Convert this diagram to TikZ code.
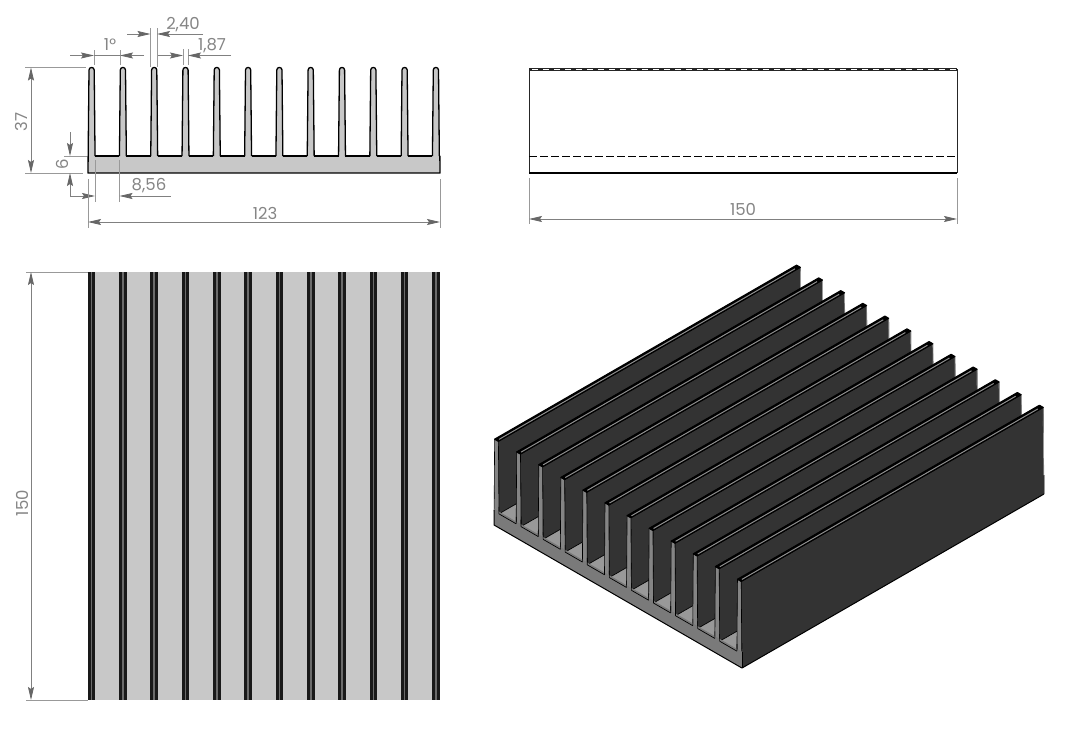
\documentclass[tikz,border=0pt]{standalone}
\usepackage{fontspec}
\setmainfont{Poppins}
\usetikzlibrary{arrows.meta}
\definecolor{dimc}{HTML}{808080}
\definecolor{dimtx}{HTML}{858585}
\definecolor{metal}{HTML}{C8C8C8}
\definecolor{finside}{HTML}{333333}
\definecolor{finend}{HTML}{858585}
\definecolor{floorc}{HTML}{999999}
\tikzset{
  dimtip/.tip={Stealth[length=13pt,width=6pt,inset=2pt,fill=dimc!80!black,color=dimc!80!black]},
  dimline/.style={draw=dimc,line width=0.8pt},
  extline/.style={draw=dimc!80,line width=0.8pt},
  dimarrow/.style={dimline,-dimtip},
  dimboth/.style={dimline,dimtip-dimtip},
  dimtext/.style={text=dimtx,font=\fontsize{16.5}{16.5}\selectfont,inner sep=0pt},
  profile/.style={draw=black,line width=1.3pt,line join=round},
  isoedge/.style={draw=black,line width=0.6pt,line join=round},
}
\begin{document}
\begin{tikzpicture}[x=1pt,y=-1pt]
\useasboundingbox (0,0) rectangle (1091,744);
% ---- front profile ----
\fill[metal] (88,156) rectangle (440,173);
\foreach \k in {0,...,11}{
  \pgfmathsetmacro\c{91.6+31.3*\k}
  \fill[metal] ({\c-3.45},156) -- ({\c-2.6},70) arc[start angle=180,end angle=0,x radius=2.6,y radius=-2.6] -- ({\c+3.45},156) -- cycle;
  \draw[profile] ({\c-3.45},156) -- ({\c-2.6},70) arc[start angle=180,end angle=0,x radius=2.6,y radius=-2.6] -- ({\c+3.45},156);
}
\foreach \k in {0,...,10}{
  \pgfmathsetmacro\c{91.6+31.3*\k}
  \draw[profile] ({\c+3.45},156) -- ({\c+31.3-3.45},156);
}
\draw[profile] (88.15,156) -- (88,173) -- (440,173) -- (439.85,156);
% ---- side view ----
\draw[black!85,line width=1pt] (529,69) -- (529,173);
\draw[black!85,line width=1pt] (957,69) -- (957,173);
\draw[black,line width=1.3pt] (529,173) -- (957,173);
\fill[black!85] (529,68) rectangle (957,71);
\draw[white,line width=0.8pt,dash pattern=on 6pt off 5pt] (532,69.5) -- (957,69.5);
\draw[black,line width=0.9pt,dash pattern=on 7.5pt off 3.5pt] (529,156) -- (957,156);
% ---- top view ----
\fill[metal] (88,272) rectangle (440,700);
\foreach \k in {0,...,11}{
  \pgfmathsetmacro\c{91.6+31.3*\k}
  \fill[black!90] ({\c-3.8},272) rectangle ({\c+3.8},700);
  \fill[floorc!70!black] ({\c-0.8},272) rectangle ({\c+0.8},700);
}
% ---- isometric view ----
\begin{scope}[shift={(494,525)},x={(2.016pt,-1.163pt)},y={(2.013pt,1.16pt)},z={(0pt,2.33pt)}]
\foreach \k in {0,...,11}{
  \pgfmathsetmacro\c{1.25+10.95*\k}
  \pgfmathsetmacro\bl{\c-1.2}
  \pgfmathsetmacro\br{\c+1.2}
  \pgfmathsetmacro\tl{\c-0.935}
  \pgfmathsetmacro\tr{\c+0.935}
  \pgfmathsetmacro\tc{\c+0.25}
  \pgfmathsetmacro\nx{\c+10.95-1.2}
  % side of the fin
  \draw[isoedge,fill=finside] (\br,0,6) -- (\tr,0,37) -- (\tr,150,37) -- (\br,150,6) -- cycle;
  \draw[draw=floorc,line width=0.7pt] (\tr,150,37) -- (\br,150,8);
  % end of the fin
  \draw[isoedge,fill=finend] (\bl,0,6) -- (\tl,0,37) -- (\tr,0,37) -- (\br,0,6) -- cycle;
  % top of the fin
  \draw[draw=black,fill=black,line width=1.1pt,line join=round] (\tl,0,37) -- (\tr,0,37) -- (\tr,150,37) -- (\tl,150,37) -- cycle;
  \draw[draw=floorc!110,line width=1pt] (\tc,1,37) -- (\tc,148,37);
  % floor of the channel
  \ifnum\k<11
    \draw[isoedge,fill=floorc] (\br,0,6) -- (\nx,0,6) -- (\nx,150,6) -- (\br,150,6) -- cycle;
  \fi
}
% right face of the base: same tone as the last fin, no seam
\fill[finside] (123,0,0) -- (123,150,0) -- (123,150,8) -- (122.9,0,8) -- cycle;
\draw[draw=floorc,line width=0.7pt] (123,150,0) -- (123,150,8);
% front of the base
\fill[finend!92!black] (0,0,0) -- (123,0,0) -- (123,0,7) -- (0,0,7) -- cycle;
\foreach \k in {0,...,10}{
  \pgfmathsetmacro\c{1.25+10.95*\k}
  \draw[black,line width=0.7pt] ({\c+1.2},0,6) -- ({\c+10.95-1.2},0,6);
  \draw[black,line width=0.6pt] ({\c+1.2},0,6) -- ({\c+1.16},0,9);
  \draw[black,line width=0.6pt] ({\c+10.95-1.2},0,6) -- ({\c+10.95-1.16},0,9);
}
\draw[black,line width=1pt,line join=round] (0,0,6.5) -- (0,0,0) -- (123,0,0) -- (123,150,0);
\draw[black,line width=0.7pt] (123,0,0) -- (123,0,7);
\end{scope}
% ---- dimensions ----
% 37
\coordinate (a37t) at (31,67.5); \coordinate (a37b) at (31,173);
\draw[extline] (25,67.5) -- (86,67.5);
\draw[extline] (25,173) -- (83,173);
\draw[dimboth] (a37t) -- (a37b);
\node[dimtext,rotate=90] (t37) at (21,122) {37};
% 6
\draw[extline] (64,156) -- (87,156);
\coordinate (a6a) at (70,156); \coordinate (a6b) at (70,173);
\draw[dimarrow] (70,132) -- (a6a);
\draw[dimarrow] (70,197) -- (a6b);
\node[dimtext,rotate=90] (t6) at (62,164) {6};
% 8,56
\draw[extline] (95,160) -- (95,201.5);
\draw[extline] (119.5,160) -- (119.5,201.5);
\draw[dimarrow] (70,196) -- (95,196);
\draw[dimarrow] (170.5,196) -- (119.5,196);
\node[dimtext] (t856) at (149,186) {8,56};
% 123
\draw[extline] (88,179) -- (88,228);
\draw[extline] (440,179) -- (440,228);
\draw[dimboth] (88,222) -- (440,222);
\node[dimtext] (t123) at (265,213) {123};
% 1 deg
\draw[extline] (94,50) -- (94,65);
\draw[extline] (120,50) -- (120,65);
\draw[dimarrow] (70,55.5) -- (94,55.5);
\draw[dimarrow] (144,55.5) -- (120,55.5);
\draw[dimline] (94,55.5) -- (120,55.5);
\node[dimtext] (t1) at (110,45) {1°};
% 2,40
\draw[extline] (150.5,28) -- (150.5,67);
\draw[extline] (157,28) -- (157,67);
\draw[dimarrow] (127,34) -- (150.5,34);
\draw[dimarrow] (203,34) -- (157,34);
\node[dimtext] (t240) at (183,25) {2,40};
% 1,87
\draw[extline] (183,49) -- (183,65);
\draw[extline] (188,49) -- (188,65);
\draw[dimarrow] (158,55.5) -- (183,55.5);
\draw[dimarrow] (231,55.5) -- (188,55.5);
\node[dimtext] (t187) at (212,46) {1,87};
% side 150
\draw[extline] (529,178) -- (529,224);
\draw[extline] (957,178) -- (957,224);
\draw[dimboth] (529,219) -- (957,219);
\node[dimtext] (t150a) at (743,209) {150};
% top view 150
\draw[extline] (26,272) -- (88,272);
\draw[extline] (26,700) -- (88,700);
\draw[dimboth] (31,272) -- (31,700);
\node[dimtext,rotate=90] (t150b) at (22,503) {150};
\end{tikzpicture}
\end{document}
